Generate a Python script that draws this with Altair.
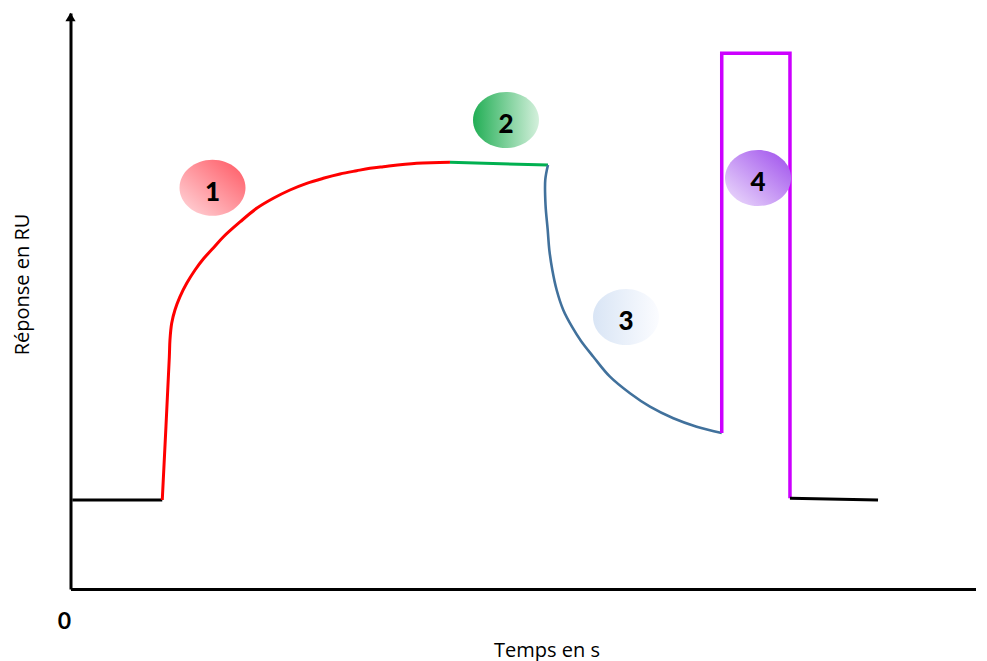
import altair as alt
import pandas as pd

# ---- data (time in s, response in RU) ----
x_domain = [0, 1000]
y_domain = [0, 1000]

baseline_t = [2, 101.4]
baseline_ru = [154.5, 154.5]

assoc_t = [101.4, 109.2, 109.9, 111.8, 115.5, 121.0, 128.4, 137.6, 146.7, 157.8, 168.8, 187.3, 205.7,
           224.1, 242.5, 261.0, 279.3, 297.8, 316.2, 330.9, 345.6, 382.5, 419.3]
assoc_ru = [154.5, 402.8, 432.3, 461.3, 484.7, 507.5, 530.7, 553.8, 572.9, 592.0, 611.1, 637.2, 660.9,
            678.3, 692.7, 704.3, 713.0, 720.5, 726.2, 730.4, 733.2, 739.1, 740.8]

equil_t = [419.3, 527.6]
equil_ru = [740.8, 736.1]

dissoc_t = [527.6, 524.6, 524.9, 527.3, 529.1, 532.4, 537.2, 544.5, 554.1, 564.1, 577.7, 596.1, 618.2,
            640.3, 666.1, 691.9, 719.6]
dissoc_ru = [736.1, 710.1, 666.7, 623.3, 588.5, 553.8, 519.1, 484.4, 455.4, 430.6, 403.3, 368.6, 339.8,
             316.5, 296.4, 281.8, 271.0]

regen_t = [719.6, 719.6, 795.0, 795.0]
regen_ru = [271.0, 930.0, 930.0, 157.5]

end_t = [795.0, 892.3]
end_ru = [157.5, 154.5]

badge_labels = ["1", "2", "3", "4"]
badge_t = [156.9, 481.2, 613.8, 759.7]
badge_ru = [696.7, 814.2, 472.2, 713.5]

FONT = "Open Sans"

xs = alt.Scale(domain=x_domain, nice=False, zero=False)
ys = alt.Scale(domain=y_domain, nice=False, zero=False)


def seg(ts, rus, color, width, interp="linear"):
    df = pd.DataFrame({"t": ts, "ru": rus, "o": list(range(len(ts)))})
    return alt.Chart(df).mark_line(color=color, strokeWidth=width, interpolate=interp,
                                   strokeCap="butt", strokeJoin="miter").encode(
        x=alt.X("t:Q", scale=xs),
        y=alt.Y("ru:Q", scale=ys),
        order="o:Q",
    )


axes_df = pd.DataFrame({"t": [x_domain[0]], "ru": [y_domain[1]]})
axes = alt.Chart(axes_df).mark_point(
    shape="M0,-1L1.2,1L-1.2,1Z", filled=True, color="black", opacity=1, size=72, yOffset=4
).encode(
    x=alt.X("t:Q", scale=xs, axis=alt.Axis(
        values=[0], title="Temps en s", labelFontWeight="bold", labelFontSize=23,
        labelFont="Lato", labelColor="black", labelPadding=21, labelAlign="right",
        ticks=False, grid=False, domainColor="black", domainWidth=3,
        titleFont=FONT, titleFontSize=20, titleFontWeight="normal", titleColor="black",
        titleX=476, titleY=61, titleBaseline="middle", titleAlign="center",
    )),
    y=alt.Y("ru:Q", scale=ys, axis=alt.Axis(
        labels=False, ticks=False, grid=False, domainColor="black", domainWidth=3,
        title="Réponse en RU", titleFont=FONT, titleFontSize=20,
        titleFontWeight="normal", titleColor="black",
        titleX=-48, titleY=271, titleBaseline="middle", titleAlign="center", titleAngle=270,
    )),
)

badges = pd.DataFrame({"label": badge_labels, "t": badge_t, "ru": badge_ru})

gradients = [
    alt.LinearGradient(gradient="linear", x1=0, y1=1, x2=1, y2=0,
                       stops=[alt.GradientStop(color="#ffdade", offset=0),
                              alt.GradientStop(color="#ff5560", offset=1)]),
    alt.LinearGradient(gradient="linear", x1=0, y1=0, x2=1, y2=0,
                       stops=[alt.GradientStop(color="#22ae55", offset=0),
                              alt.GradientStop(color="#d4f0dc", offset=1)]),
    alt.LinearGradient(gradient="linear", x1=0, y1=0, x2=1, y2=0,
                       stops=[alt.GradientStop(color="#d9e5f5", offset=0),
                              alt.GradientStop(color="#fbfcff", offset=1)]),
    alt.LinearGradient(gradient="linear", x1=1, y1=0, x2=0, y2=1,
                       stops=[alt.GradientStop(color="#9d4cec", offset=0),
                              alt.GradientStop(color="#efe1fc", offset=1)]),
]

ellipse = "M-1,0A1,0.85 0 1,0 1,0A1,0.85 0 1,0 -1,0Z"
badge_layers = []
for lab, g in zip(badge_labels, gradients):
    badge_layers.append(
        alt.Chart(badges).transform_filter(alt.datum.label == lab).mark_point(
            shape=ellipse, filled=True, fill=g, strokeWidth=0, opacity=1, size=4356
        ).encode(x=alt.X("t:Q", scale=xs), y=alt.Y("ru:Q", scale=ys))
    )

badge_text = alt.Chart(badges).mark_text(
    font="Lato", fontSize=26, fontWeight=900, color="black", dy=5
).encode(x=alt.X("t:Q", scale=xs), y=alt.Y("ru:Q", scale=ys), text="label:N")

chart = alt.layer(
    axes,
    seg(baseline_t, baseline_ru, "#000000", 3),
    seg(assoc_t, assoc_ru, "#ff0000", 3, "catmull-rom"),
    seg(equil_t, equil_ru, "#00b050", 3),
    seg(dissoc_t, dissoc_ru, "#41719c", 2.6, "catmull-rom"),
    seg(regen_t, regen_ru, "#cc00ff", 3.5),
    seg(end_t, end_ru, "#000000", 3),
    *badge_layers,
    badge_text,
).properties(
    width=905, height=576,
    autosize=alt.AutoSizeParams(type="none"),
    padding={"left": 62.5, "top": 5, "right": 0, "bottom": 75},
).configure_view(stroke=None)

chart.save("out.html", embed_options={"renderer": "svg", "actions": False})
